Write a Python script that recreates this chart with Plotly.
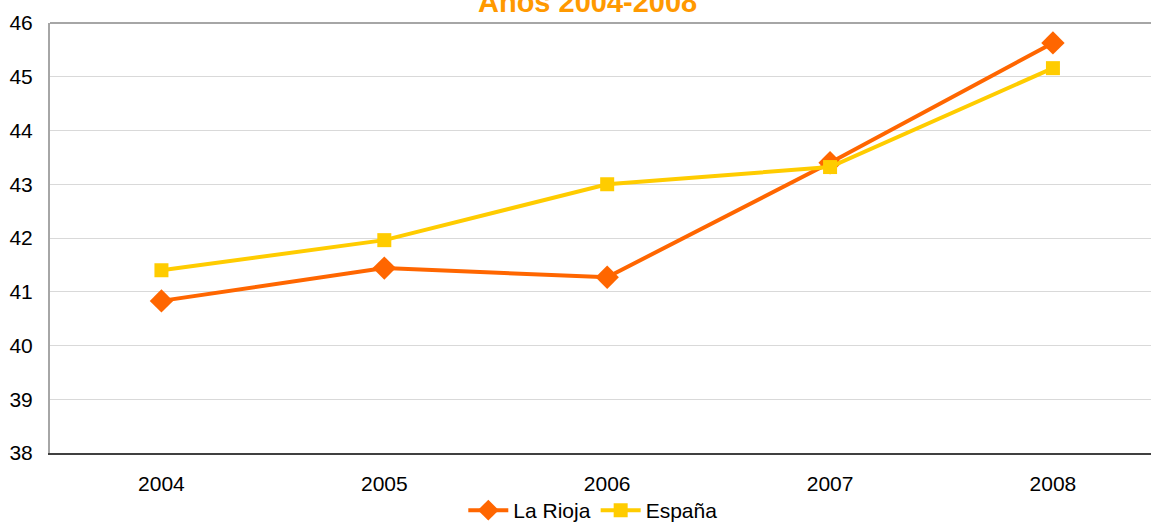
import plotly.graph_objects as go

years = ["2004", "2005", "2006", "2007", "2008"]
la_rioja = [40.83, 41.44, 41.27, 43.40, 45.63]
espana = [41.40, 41.96, 43.00, 43.32, 45.16]
y_ticks = [38, 39, 40, 41, 42, 43, 44, 45, 46]
title_text = "Años 2004-2008"

idx = list(range(len(years)))

fig = go.Figure()
fig.add_trace(go.Scatter(
    x=idx, y=la_rioja, name="La Rioja", mode="lines+markers",
    line=dict(color="#FF6600", width=4),
    marker=dict(symbol="diamond", size=18, color="#FF6600"),
))
fig.add_trace(go.Scatter(
    x=idx, y=espana, name="España", mode="lines+markers",
    line=dict(color="#FFCC00", width=4),
    marker=dict(symbol="square", size=14, color="#FFCC00"),
))

font = dict(family="Liberation Sans, Arial, sans-serif", size=21, color="#000000")

fig.update_layout(
    width=1151, height=524,
    margin=dict(l=50, r=0, t=23, b=71, autoexpand=False),
    paper_bgcolor="white", plot_bgcolor="white",
    font=font,
    showlegend=True,
    legend=dict(orientation="h", x=0.493, xanchor="center", y=-0.086, yanchor="top",
                font=font, bgcolor="rgba(0,0,0,0)", itemwidth=40, tracegroupgap=0),
    xaxis=dict(
        range=[-0.5, 4.44], tickmode="array", tickvals=idx, ticktext=years,
        showgrid=False, zeroline=False, showline=True, linecolor="#404040", linewidth=2,
        ticks="", ticklabelstandoff=11, fixedrange=True, automargin=False,
    ),
    yaxis=dict(
        range=[38, 46], tickmode="array", tickvals=y_ticks,
        showgrid=True, gridcolor="#D9D9D9", gridwidth=1, zeroline=False,
        showline=True, linecolor="#A6A6A6", linewidth=2, ticks="",
        ticklabelstandoff=11, automargin=False,
    ),
    annotations=[dict(
        text="<b>" + title_text + "</b>", xref="paper", yref="paper",
        x=0.488, y=1.0, yanchor="bottom", yshift=3, showarrow=False,
        font=dict(family="Liberation Sans, Arial, sans-serif", size=29, color="#FF9900"),
    )],
    shapes=[dict(type="line", xref="paper", yref="paper", x0=0, x1=1, y0=1, y1=1,
                 line=dict(color="#A6A6A6", width=2))],
)

fig.write_html("out.html", config={"displayModeBar": False},
               post_script="document.body.style.margin='0px';")
